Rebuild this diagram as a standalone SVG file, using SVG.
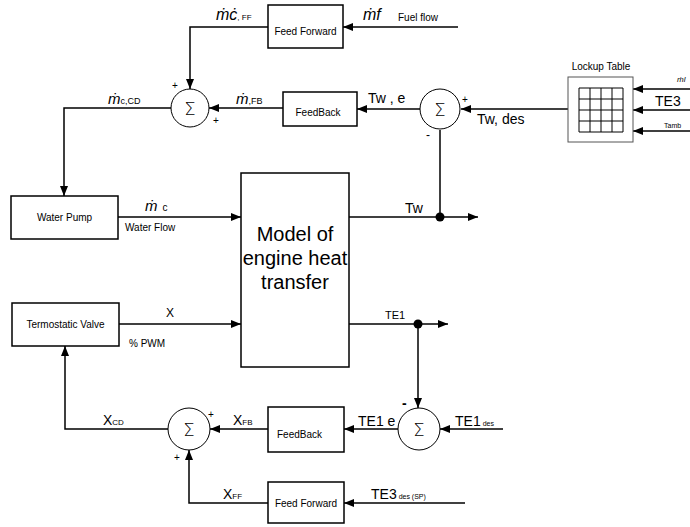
<svg xmlns="http://www.w3.org/2000/svg" width="690" height="527" viewBox="0 0 690 527">
<style>
text{font-family:"Liberation Sans",Arial,sans-serif;fill:#000}
.box{fill:#fff;stroke:#000;stroke-width:1.5}
.sum{fill:#fff;stroke:#000;stroke-width:1}
.ln{fill:none;stroke:#000;stroke-width:1.5}
.s{font-size:10px}
.m{font-size:14px}
.it{font-style:italic}
.sig{font-size:18px;text-anchor:middle;font-family:"DejaVu Sans",sans-serif;font-weight:200}
.c{text-anchor:middle}
</style>
<defs>
<marker id="ar" markerUnits="userSpaceOnUse" markerWidth="11" markerHeight="9" refX="10" refY="4" orient="auto">
<path d="M0,0 L10,4 L0,8 z" fill="#000"/>
</marker>
</defs>
<rect width="690" height="527" fill="#fff"/>
<g id="connectors">
<path class="ln" d="M458,27 L343,27" marker-end="url(#ar)"/>
<path class="ln" d="M268,27 L190,27 L190,89" marker-end="url(#ar)"/>
<path class="ln" d="M283,108 L209,108" marker-end="url(#ar)"/>
<path class="ln" d="M171,108 L64,108 L64,196" marker-end="url(#ar)"/>
<path class="ln" d="M420,109 L357,109" marker-end="url(#ar)"/>
<path class="ln" d="M568,109 L461,109" marker-end="url(#ar)"/>
<path class="ln" d="M690,89 L633,89" marker-end="url(#ar)"/>
<path class="ln" d="M690,110 L633,110" marker-end="url(#ar)"/>
<path class="ln" d="M690,131 L633,131" marker-end="url(#ar)"/>
<path class="ln" d="M440,130 L440,217"/>
<path class="ln" d="M118,217 L241,217" marker-end="url(#ar)"/>
<path class="ln" d="M349,217 L478,217" marker-end="url(#ar)"/>
<circle cx="440" cy="217" r="4.5" fill="#000"/>
<path class="ln" d="M119,324 L241,324" marker-end="url(#ar)"/>
<path class="ln" d="M349,324 L448,324" marker-end="url(#ar)"/>
<circle cx="418" cy="324" r="4.5" fill="#000"/>
<path class="ln" d="M418,324 L418,408" marker-end="url(#ar)"/>
<path class="ln" d="M503,429 L440,429" marker-end="url(#ar)"/>
<path class="ln" d="M398,429 L344,429" marker-end="url(#ar)"/>
<path class="ln" d="M268,429 L210,429" marker-end="url(#ar)"/>
<path class="ln" d="M465,503 L344,503" marker-end="url(#ar)"/>
<path class="ln" d="M268,503 L189,503 L189,450" marker-end="url(#ar)"/>
<path class="ln" d="M168,429 L65,429 L65,346" marker-end="url(#ar)"/>
</g>
<g id="labels">
<text x="216" y="20" class="it" font-size="16">ṁċ<tspan font-size="8" font-style="normal">, FF</tspan></text>
<text x="363" y="20" class="it" font-size="16">ṁf</text>
<text x="398" y="21" class="s">Fuel flow</text>
<text x="108" y="104" class="it" font-size="15">ṁ<tspan font-size="9" font-style="normal">c,CD</tspan></text>
<text x="236" y="104" class="it" font-size="15">ṁ<tspan font-size="9" font-style="normal">,FB</tspan></text>
<text x="368" y="103" class="m">Tw , e</text>
<text x="477" y="124" class="m">Tw, des</text>
<text x="677" y="82" class="it" font-size="8">ṁl</text>
<text x="655" y="106" class="m">TE3</text>
<text x="664" y="128" font-size="7">Tamb</text>
<text x="145" y="211" class="it" font-size="15">ṁ<tspan font-size="10" font-style="normal" dx="5">c</tspan></text>
<text x="125" y="231" class="s">Water Flow</text>
<text x="405" y="213" class="m">Tw</text>
<text x="166" y="317" font-size="12">X</text>
<text x="129" y="347" class="s">% PWM</text>
<text x="385" y="319" font-size="11">TE1</text>
<text x="358" y="426" class="m">TE1 e</text>
<text x="455" y="426" class="m">TE1<tspan font-size="7"> des</tspan></text>
<text x="371" y="499" class="m">TE3<tspan font-size="7"> des (SP)</tspan></text>
<text x="233" y="425" class="m">X<tspan font-size="8">FB</tspan></text>
<text x="223" y="499" class="m">X<tspan font-size="8">FF</tspan></text>
<text x="103" y="425" class="m">X<tspan font-size="8">CD</tspan></text>
<text x="172" y="89" class="s">+</text>
<text x="213" y="124" class="s">+</text>
<text x="462" y="103" class="s">+</text>
<text x="426" y="139" font-size="12">-</text>
<text x="402" y="408" font-size="14" font-weight="bold">-</text>
<text x="426" y="441" class="s">+</text>
<text x="208" y="418" class="s">+</text>
<text x="174" y="461" class="s">+</text>
</g>
<g id="ff1">
<rect class="box" x="268" y="5" width="75" height="43"/>
<text x="305.5" y="35" class="s c">Feed Forward</text>
</g>
<g id="sum1">
<circle class="sum" cx="190" cy="108" r="19"/>
<text x="190" y="115" class="sig">Σ</text>
</g>
<g id="fb1">
<rect class="box" x="283" y="92" width="74" height="34"/>
<text x="318" y="116" class="s c">FeedBack</text>
</g>
<g id="sum2">
<circle class="sum" cx="440" cy="109" r="20"/>
<text x="440" y="116" class="sig">Σ</text>
</g>
<g id="lookup">
<text x="601" y="70" class="s c">Lockup Table</text>
<rect x="568" y="77" width="65" height="65" fill="#fff" stroke="#555" stroke-width="1"/>
<path d="M579,88 H623 V132 H579 Z M579,99 H623 M579,110 H623 M579,121 H623 M590,88 V132 M601,88 V132 M612,88 V132" fill="none" stroke="#000" stroke-width="1"/>
</g>
<g id="pump">
<rect class="box" x="11" y="196" width="107" height="43"/>
<text x="64.5" y="221" class="s c">Water Pump</text>
</g>
<g id="model">
<rect class="box" x="241" y="173" width="108" height="194"/>
<text x="295" y="241" font-size="20" class="c">Model of</text>
<text x="295" y="265" font-size="20" class="c">engine heat</text>
<text x="295" y="289" font-size="20" class="c">transfer</text>
</g>
<g id="valve">
<rect class="box" x="12" y="303" width="107" height="43"/>
<text x="65.5" y="328" class="s c">Termostatic Valve</text>
</g>
<g id="sum3">
<circle class="sum" cx="419" cy="429" r="21"/>
<text x="419" y="436" class="sig">Σ</text>
</g>
<g id="fb2">
<rect class="box" x="268" y="407" width="76" height="45"/>
<text x="277" y="438" class="s">FeedBack</text>
</g>
<g id="sum4">
<circle class="sum" cx="189" cy="429" r="21"/>
<text x="189" y="436" class="sig">Σ</text>
</g>
<g id="ff2">
<rect class="box" x="268" y="482" width="76" height="41"/>
<text x="306" y="507" class="s c">Feed Forward</text>
</g>
</svg>
